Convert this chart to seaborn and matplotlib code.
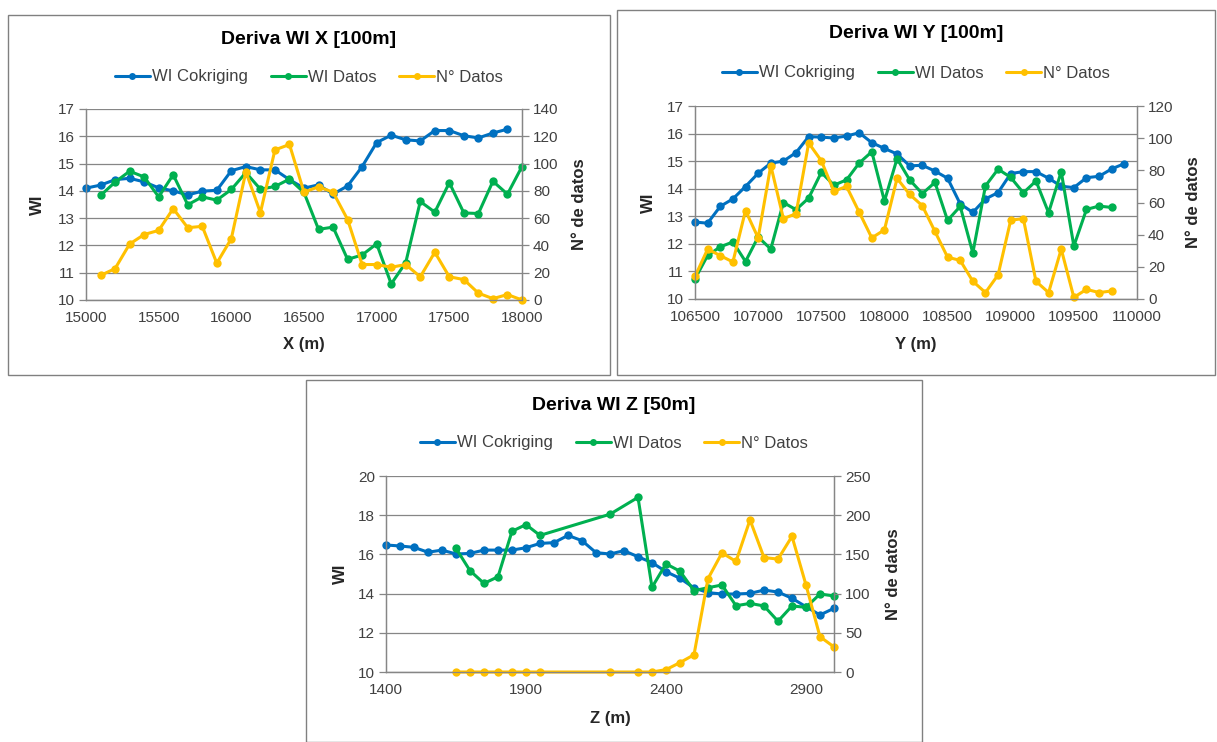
"""Deriva WI - three drift panels (X, Y, Z)."""

import matplotlib
matplotlib.use('Agg')  # Non-interactive backend
import matplotlib.pyplot as plt
from matplotlib.lines import Line2D
from matplotlib.patches import Rectangle
import seaborn as sns

sns.set_style("white")
plt.rcParams['font.family'] = ['Liberation Sans', 'DejaVu Sans']

# ---- data: drift along X (100 m lags) ----
x_cok = [15000, 15100, 15200, 15300, 15400, 15500, 15600, 15700, 15800, 15900,
         16000, 16100, 16200, 16300, 16400, 16500, 16600, 16700, 16800, 16900,
         17000, 17100, 17200, 17300, 17400, 17500, 17600, 17700, 17800, 17900]
wi_cok_x = [14.10, 14.21, 14.41, 14.46, 14.33, 14.11, 14.00, 13.85, 13.99, 14.02,
            14.74, 14.89, 14.77, 14.77, 14.41, 14.10, 14.22, 13.88, 14.18, 14.89,
            15.77, 16.04, 15.87, 15.83, 16.21, 16.21, 16.02, 15.94, 16.12, 16.26]
x_dat = [15100, 15200, 15300, 15400, 15500, 15600, 15700, 15800, 15900, 16000,
         16100, 16200, 16300, 16400, 16500, 16600, 16700, 16800, 16900, 17000,
         17100, 17200, 17300, 17400, 17500, 17600, 17700, 17800, 17900, 18000]
wi_dat_x = [13.83, 14.32, 14.72, 14.51, 13.78, 14.59, 13.49, 13.78, 13.66, 14.05,
            14.67, 14.06, 14.16, 14.43, 13.94, 12.59, 12.67, 11.49, 11.65, 12.06,
            10.59, 11.37, 13.61, 13.22, 14.30, 13.19, 13.17, 14.35, 13.88, 14.89]
n_dat_x = [18, 23, 41, 48, 51, 67, 53, 54, 27, 45,
           94, 64, 110, 114, 79, 83, 79, 59, 26, 26,
           24, 26, 17, 35, 17, 15, 5, 1, 4, 0]

# ---- data: drift along Y (100 m lags) ----
y_cok = [106500, 106600, 106700, 106800, 106900, 107000, 107100, 107200, 107300,
         107400, 107500, 107600, 107700, 107800, 107900, 108000, 108100, 108200,
         108300, 108400, 108500, 108600, 108700, 108800, 108900, 109000, 109100,
         109200, 109300, 109400, 109500, 109600, 109700, 109800, 109900]
wi_cok_y = [12.79, 12.75, 13.36, 13.63, 14.08, 14.56, 14.93, 15.00, 15.31,
            15.89, 15.87, 15.84, 15.91, 16.03, 15.67, 15.46, 15.26, 14.83,
            14.85, 14.64, 14.38, 13.45, 13.14, 13.63, 13.86, 14.55, 14.62,
            14.62, 14.38, 14.09, 14.04, 14.40, 14.45, 14.72, 14.91]
y_dat = [106500, 106600, 106700, 106800, 106900, 107000, 107100, 107200, 107300,
         107400, 107500, 107600, 107700, 107800, 107900, 108000, 108100, 108200,
         108300, 108400, 108500, 108600, 108700, 108800, 108900, 109000, 109100,
         109200, 109300, 109400, 109500, 109600, 109700, 109800]
wi_dat_y = [10.73, 11.58, 11.89, 12.07, 11.36, 12.25, 11.81, 13.50, 13.24,
            13.66, 14.59, 14.13, 14.32, 14.93, 15.34, 13.55, 15.09, 14.32,
            13.82, 14.23, 12.85, 13.36, 11.67, 14.10, 14.71, 14.41, 13.85,
            14.28, 13.13, 14.62, 11.92, 13.25, 13.37, 13.32]
n_dat_y = [14, 31, 27, 23, 55, 38, 83, 50, 53,
           97, 86, 67, 70, 54, 38, 43, 75, 65,
           58, 42, 26, 24, 11, 4, 15, 49, 50,
           11, 4, 31, 1, 6, 4, 5]

# ---- data: drift along Z (50 m lags) ----
z_cok = [1400, 1450, 1500, 1550, 1600, 1650, 1700, 1750, 1800, 1850, 1900,
         1950, 2000, 2050, 2100, 2150, 2200, 2250, 2300, 2350, 2400, 2450,
         2500, 2550, 2600, 2650, 2700, 2750, 2800, 2850, 2900, 2950, 3000]
wi_cok_z = [16.48, 16.43, 16.36, 16.11, 16.22, 16.02, 16.05, 16.22, 16.22, 16.22, 16.34,
            16.56, 16.60, 16.97, 16.70, 16.09, 16.02, 16.19, 15.88, 15.58, 15.12, 14.78,
            14.29, 14.05, 13.98, 13.98, 14.01, 14.18, 14.08, 13.76, 13.33, 12.91, 13.25]
z_dat = [1650, 1700, 1750, 1800, 1850, 1900, 1950, 2200, 2300, 2350, 2400, 2450,
         2500, 2550, 2600, 2650, 2700, 2750, 2800, 2850, 2900, 2950, 3000]
wi_dat_z = [16.31, 15.17, 14.52, 14.86, 17.18, 17.52, 16.97, 18.05, 18.91, 14.32, 15.52, 15.14,
            14.15, 14.30, 14.44, 13.38, 13.50, 13.37, 12.59, 13.37, 13.30, 13.98, 13.88]
n_dat_z = [0, 0, 0, 0, 0, 0, 0, 0, 0, 0, 3, 12,
           22, 119, 152, 141, 194, 146, 144, 173, 111, 45, 32]

BLUE = '#0070C0'
GREEN = '#00B050'
YELLOW = '#FFC000'
GRID = '#868686'
TXT = '#404040'

W, H = 1217, 742
fig = plt.figure(figsize=(W / 100, H / 100), dpi=100)
fig.patch.set_facecolor('white')


def frac(l, t, r, b):
    return [l / W, 1 - b / H, (r - l) / W, (b - t) / H]


def draw_panel(box, area, title, title_y, legend_y, xlabel, xlabel_y,
               wi_x, nd_x, cok, dat, nd, xlim, xticks, ylim, yticks, y2lim, y2ticks):
    l, t, r, b = box
    fig.patches.append(Rectangle((l / W, 1 - b / H), (r - l) / W, (b - t) / H,
                                 transform=fig.transFigure, fill=False,
                                 edgecolor='#808080', linewidth=1))
    cx = (l + r) / 2
    fig.text(cx / W, 1 - title_y / H, title, ha='center', va='center',
             fontsize=14, fontweight='bold', color='black')

    ax = fig.add_axes(frac(*area))
    ax2 = ax.twinx()
    style = dict(marker='o', markersize=6, linewidth=2.2, markeredgewidth=0,
                 sort=False, clip_on=False)
    sns.lineplot(x=cok[0], y=cok[1], ax=ax, color=BLUE, **style)
    sns.lineplot(x=dat[0], y=dat[1], ax=ax, color=GREEN, **style)
    sns.lineplot(x=nd[0], y=nd[1], ax=ax2, color=YELLOW, **style)

    ax.set_xlim(*xlim)
    ax.set_xticks(xticks)
    ax.set_ylim(*ylim)
    ax.set_yticks(yticks)
    ax2.set_ylim(*y2lim)
    ax2.set_yticks(y2ticks)
    ax.grid(axis='y', color=GRID, linewidth=0.9)
    ax.grid(axis='x', visible=False)
    ax2.grid(False)
    ax.set_axisbelow(True)
    ax.set_xlabel('')
    ax.set_ylabel('')
    ax2.set_ylabel('')
    for a in (ax, ax2):
        a.spines['top'].set_visible(False)
        for s in ('left', 'right', 'bottom'):
            a.spines[s].set_color(GRID)
            a.spines[s].set_linewidth(0.9)
        a.tick_params(axis='both', direction='out', length=5, width=0.9,
                      color=GRID, labelcolor=TXT, labelsize=11, pad=3)
    ax.patch.set_alpha(0)

    al, at, ar, ab = area
    fig.text((al + ar) / 2 / W, 1 - xlabel_y / H, xlabel, ha='center', va='center',
             fontsize=12, fontweight='bold')
    fig.text(wi_x / W, 1 - (at + ab) / 2 / H, 'WI', ha='center', va='center',
             rotation=90, fontsize=12, fontweight='bold')
    fig.text(nd_x / W, 1 - (at + ab) / 2 / H, 'N° de datos', ha='center', va='center',
             rotation=90, fontsize=12, fontweight='bold')

    handles = [Line2D([], [], color=c, marker='o', markersize=5, linewidth=2.2,
                      markeredgewidth=0) for c in (BLUE, GREEN, YELLOW)]
    fig.legend(handles, ['WI Cokriging', 'WI Datos', 'N° Datos'], loc='center',
               bbox_to_anchor=(cx / W, 1 - legend_y / H), ncol=3, frameon=False,
               fontsize=12, handlelength=2.1, handletextpad=0.1, columnspacing=1.4,
               labelcolor=TXT)


draw_panel((8, 15, 610, 375), (86, 109, 522, 300), 'Deriva WI X [100m]', 40, 77,
           'X (m)', 345, 37, 580,
           (x_cok, wi_cok_x), (x_dat, wi_dat_x), (x_dat, n_dat_x),
           (15000, 18000), [15000, 15500, 16000, 16500, 17000, 17500, 18000],
           (10, 17), [10, 11, 12, 13, 14, 15, 16, 17],
           (0, 140), [0, 20, 40, 60, 80, 100, 120, 140])

draw_panel((617, 10, 1215, 375), (695, 106, 1137, 299), 'Deriva WI Y [100m]', 34, 73,
           'Y (m)', 345, 648, 1193,
           (y_cok, wi_cok_y), (y_dat, wi_dat_y), (y_dat, n_dat_y),
           (106500, 110000),
           [106500, 107000, 107500, 108000, 108500, 109000, 109500, 110000],
           (10, 17), [10, 11, 12, 13, 14, 15, 16, 17],
           (0, 120), [0, 20, 40, 60, 80, 100, 120])

draw_panel((306, 380, 922, 742), (386, 476, 834, 672), 'Deriva WI Z [50m]', 405, 443,
           'Z (m)', 718, 340, 893,
           (z_cok, wi_cok_z), (z_dat, wi_dat_z), (z_dat, n_dat_z),
           (1400, 3000), [1400, 1900, 2400, 2900],
           (10, 20), [10, 12, 14, 16, 18, 20],
           (0, 250), [0, 50, 100, 150, 200, 250])

fig.savefig('out.png', dpi=100, facecolor='white')
plt.close(fig)
